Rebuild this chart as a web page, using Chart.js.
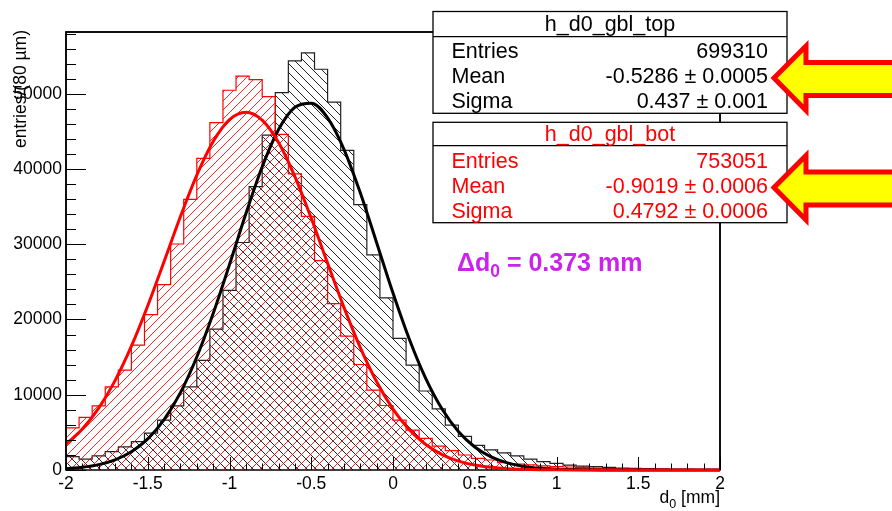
<!DOCTYPE html>
<html><head><meta charset="utf-8">
<script src="https://cdn.jsdelivr.net/npm/chart.js@4.4.1/dist/chart.umd.min.js"></script>
<style>html,body{margin:0;padding:0;background:#fff;}#wrap{width:892px;height:511px;position:relative;}</style>
</head><body><div id="wrap"><canvas id="c" width="892" height="511"></canvas></div>
<script>
// ---- binning / axis ----
const xMin = -2, xMax = 2, binWidth = 0.08;
const yMax = 58200;
const xTickLabels = [-2, -1.5, -1, -0.5, 0, 0.5, 1, 1.5, 2];
const yTickLabels = [0, 10000, 20000, 30000, 40000, 50000];
const xMinorStep = 0.1, yMinorStep = 2000;

// ---- histogram contents (entries per 80 um bin) ----
const topCounts = [1790, 1440, 1880, 2430, 3070, 3770, 4900, 6640, 8520, 11050,
  14570, 18730, 23880, 30230, 37660, 44500, 50150, 54360, 55430, 53250,
  48880, 42460, 35260, 28580, 22860, 17490, 13930, 10500, 8130, 5950,
  4460, 3270, 2680, 2280, 1880, 1440, 1100, 890, 660, 520,
  440, 360, 250, 220, 200, 120, 100, 80, 60, 50];
const botCounts = [5610, 6990, 8530, 11050, 13270, 16590, 20650, 24640, 30030, 35960,
  41400, 46160, 50460, 52350, 51880, 49610, 44600, 39340, 33690, 27830,
  22120, 17780, 14020, 10610, 8570, 6640, 5310, 4200, 3180, 2570,
  1990, 1550, 1330, 990, 800, 670, 550, 440, 400, 350,
  250, 200, 150, 120, 100, 80, 60, 50, 40, 30];

// ---- gaussian fit curves ----
const fitX = [-2.0,-1.9,-1.8,-1.7,-1.6,-1.5,-1.4,-1.3,-1.2,-1.1,-1.0,-0.9,-0.8,-0.7,-0.6,-0.5,-0.4,-0.3,-0.2,-0.1,
  0.0,0.1,0.2,0.3,0.4,0.5,0.6,0.7,0.8,0.9,1.0,1.1,1.2,1.3,1.4,1.5,1.6,1.7,1.8,1.9,2.0];
const topFit = [168, 355, 710, 1345, 2417, 4128, 6692, 10287, 15014, 20791, 27302, 34041, 40284, 45239, 48202, 48747, 46785, 42613, 36826, 30206,
  23507, 17362, 12169, 8096, 5114, 3062, 1739, 939, 481, 234, 107, 50, 20, 8, 3, 1, 0, 0, 0, 0, 0];
const botFit = [3443, 5433, 8212, 11877, 16451, 21822, 27698, 33674, 39184, 43654, 46567, 47548, 46488, 43505, 38986, 33446, 27471, 21604, 16262, 11724,
  8093, 5344, 3380, 2048, 1187, 659, 351, 178, 87, 41, 18, 8, 3, 1, 1, 1, 0, 0, 0, 0, 0];

// ---- stats boxes ----
const topStatLabels = ['Entries', 'Mean', 'Sigma'];
const topStatValues = ['699310', '-0.5286 \u00b1 0.0005', '0.437 \u00b1 0.001'];
const botStatLabels = ['Entries', 'Mean', 'Sigma'];
const botStatValues = ['753051', '-0.9019 \u00b1 0.0006', '0.4792 \u00b1 0.0006'];
const topName = 'h_d0_gbl_top', botName = 'h_d0_gbl_bot';
const deltaLabel = ['\u0394d', '0', ' = 0.373 mm'];
const yTitle = 'entries/(80 \u00b5m)';
const xTitle = ['d', '0', ' [mm]'];

const FONT = '"Liberation Sans", Arial, Helvetica, sans-serif';

function hatch(color, dir) {
  const s = 9;
  const c = document.createElement('canvas');
  c.width = s; c.height = s;
  const g = c.getContext('2d');
  g.strokeStyle = color; g.lineWidth = 1;
  g.beginPath();
  if (dir === '/') {
    g.moveTo(-1, s + 1); g.lineTo(s + 1, -1);
    g.moveTo(-1, 1); g.lineTo(1, -1);
    g.moveTo(s - 1, s + 1); g.lineTo(s + 1, s - 1);
  } else {
    g.moveTo(-1, -1); g.lineTo(s + 1, s + 1);
    g.moveTo(s - 1, -1); g.lineTo(s + 1, 1);
    g.moveTo(-1, s - 1); g.lineTo(1, s + 1);
  }
  g.stroke();
  return g.createPattern(c, 'repeat');
}

function histPoints(counts) {
  // point at each bin's lower edge; 'before' stepping holds that value across the bin
  const pts = counts.map((v, i) => ({ x: xMin + i * binWidth, y: v }));
  pts.push({ x: xMax, y: counts[counts.length - 1] });
  return pts;
}
function curvePoints(xs, ys) { return xs.map((x, i) => ({ x: x, y: ys[i] })); }

const deco = {
  id: 'deco',
  beforeDatasetsDraw(chart) {
    const { ctx, chartArea: a } = chart;
    ctx.save();
    ctx.strokeStyle = '#000';
    ctx.lineWidth = 1.5;
    ctx.strokeRect(a.left, a.top, a.right - a.left, a.bottom - a.top);
    ctx.restore();
  },
  afterDatasetsDraw(chart) {
    const { ctx, chartArea: a, scales: { x, y } } = chart;
    ctx.save();
    ctx.strokeStyle = '#000';
    ctx.lineWidth = 1;
    ctx.beginPath();
    for (let k = 0; k * yMinorStep <= yMax; k++) {
      const v = k * yMinorStep;
      const py = Math.round(y.getPixelForValue(v)) + 0.5;
      const len = (v % 10000 === 0) ? 20 : 10;
      ctx.moveTo(a.left, py); ctx.lineTo(a.left + len, py);
    }
    const nx = Math.round((xMax - xMin) / xMinorStep);
    for (let k = 0; k <= nx; k++) {
      const v = xMin + k * xMinorStep;
      const px = Math.round(x.getPixelForValue(v)) + 0.5;
      const len = (k % 5 === 0) ? 13 : 6.5;
      ctx.moveTo(px, a.bottom); ctx.lineTo(px, a.bottom - len);
    }
    ctx.stroke();
    // left and top frame edges on top of the fills
    ctx.lineWidth = 1.5;
    ctx.beginPath();
    ctx.moveTo(a.left, a.bottom); ctx.lineTo(a.left, a.top); ctx.lineTo(a.right, a.top); ctx.lineTo(a.right, a.bottom);
    ctx.stroke();
    ctx.restore();
  },
  afterDraw(chart) {
    const { ctx, chartArea: a } = chart;
    ctx.save();
    ctx.fillStyle = '#000';
    ctx.font = '17.5px ' + FONT;
    ctx.save();
    ctx.translate(26, a.top - 2);
    ctx.rotate(-Math.PI / 2);
    ctx.textAlign = 'right'; ctx.textBaseline = 'alphabetic';
    ctx.fillText(yTitle, 0, 0);
    ctx.restore();
    drawSub(ctx, xTitle, a.right, 503, 17.5, 12.5, 5, '#000', false, 'right');

    statBox(ctx, 433, 11.5, 787, 36.7, 113.3, '#000', topName, 31, topStatLabels, topStatValues, [58, 83, 108]);
    statBox(ctx, 433, 122.3, 787, 145.7, 222.7, '#ff0000', botName, 140.5, botStatLabels, botStatValues, [168, 193, 217.5]);

    arrow(ctx, 0);
    arrow(ctx, 109.5);

    drawSub(ctx, deltaLabel, 457, 271, 25, 17.5, 6, '#cc22ee', true, 'left');
    ctx.restore();
  }
};

function drawSub(ctx, parts, x, base, size, subSize, drop, color, bold, align) {
  const w = bold ? 'bold ' : '';
  ctx.fillStyle = color; ctx.textBaseline = 'alphabetic'; ctx.textAlign = 'left';
  ctx.font = w + size + 'px ' + FONT; const w0 = ctx.measureText(parts[0]).width;
  const w2 = ctx.measureText(parts[2]).width;
  ctx.font = w + subSize + 'px ' + FONT; const w1 = ctx.measureText(parts[1]).width;
  let x0 = align === 'right' ? x - (w0 + w1 + w2) : x;
  ctx.font = w + size + 'px ' + FONT; ctx.fillText(parts[0], x0, base);
  ctx.font = w + subSize + 'px ' + FONT; ctx.fillText(parts[1], x0 + w0, base + drop);
  ctx.font = w + size + 'px ' + FONT; ctx.fillText(parts[2], x0 + w0 + w1, base);
}

function statBox(ctx, x0, y0, x1, ySep, y1, color, title, titleBase, labels, values, bases) {
  ctx.fillStyle = '#fff';
  ctx.fillRect(x0, y0, x1 - x0, y1 - y0);
  ctx.strokeStyle = '#000'; ctx.lineWidth = 1.3;
  ctx.strokeRect(x0, y0, x1 - x0, y1 - y0);
  ctx.beginPath(); ctx.moveTo(x0, ySep); ctx.lineTo(x1, ySep); ctx.stroke();
  ctx.fillStyle = color;
  ctx.font = '21.5px ' + FONT;
  ctx.textBaseline = 'alphabetic';
  ctx.textAlign = 'center';
  ctx.fillText(title, (x0 + x1) / 2, titleBase);
  for (let i = 0; i < labels.length; i++) {
    ctx.textAlign = 'left'; ctx.fillText(labels[i], x0 + 18.5, bases[i]);
    ctx.textAlign = 'right'; ctx.fillText(values[i], x1 - 19, bases[i]);
  }
}

function arrow(ctx, dy) {
  ctx.save();
  ctx.beginPath();
  ctx.moveTo(774, 78 + dy);
  ctx.lineTo(806, 46 + dy);
  ctx.lineTo(806, 62.5 + dy);
  ctx.lineTo(900, 62.5 + dy);
  ctx.lineTo(900, 95.5 + dy);
  ctx.lineTo(806, 95.5 + dy);
  ctx.lineTo(806, 110.5 + dy);
  ctx.closePath();
  ctx.fillStyle = '#ffff00';
  ctx.fill();
  ctx.lineWidth = 5; ctx.lineJoin = 'miter'; ctx.miterLimit = 10;
  ctx.strokeStyle = '#ff0000';
  ctx.stroke();
  ctx.restore();
}

const chart = new Chart(document.getElementById('c'), {
  type: 'line',
  data: {
    datasets: [
      { data: histPoints(topCounts), stepped: 'before', borderColor: '#222', borderWidth: 1.2,
        backgroundColor: hatch('rgba(0,0,0,0.85)', '\\'), fill: 'origin', pointRadius: 0, order: 4 },
      { data: histPoints(botCounts), stepped: 'before', borderColor: '#ff0000', borderWidth: 1.2,
        backgroundColor: hatch('rgba(255,0,0,0.85)', '/'), fill: 'origin', pointRadius: 0, order: 3 },
      { data: curvePoints(fitX, topFit), borderColor: '#000', borderWidth: 3, fill: false, clip: 4,
        pointRadius: 0, cubicInterpolationMode: 'monotone', order: 2 },
      { data: curvePoints(fitX, botFit), borderColor: '#ff0000', borderWidth: 3, fill: false, clip: 4,
        pointRadius: 0, cubicInterpolationMode: 'monotone', order: 1 }
    ]
  },
  options: {
    responsive: false, animation: false, devicePixelRatio: 1,
    layout: { padding: { left: 0, right: 172, top: 32, bottom: 0 } },
    plugins: { legend: { display: false }, tooltip: { enabled: false } },
    scales: {
      x: {
        type: 'linear', min: xMin, max: xMax,
        grid: { display: false, drawTicks: false }, border: { display: false },
        afterBuildTicks: (s) => { s.ticks = xTickLabels.map(v => ({ value: v })); },
        afterFit: (s) => { s.height = 41; },
        ticks: { padding: 4, color: '#000', maxRotation: 0, autoSkip: false,
          font: { family: FONT, size: 17.5 }, callback: (v) => String(v) }
      },
      y: {
        type: 'linear', min: 0, max: yMax,
        grid: { display: false, drawTicks: false }, border: { display: false },
        afterBuildTicks: (s) => { s.ticks = yTickLabels.map(v => ({ value: v })); },
        afterFit: (s) => { s.width = 66; },
        ticks: { padding: 4, color: '#000', autoSkip: false,
          font: { family: FONT, size: 17.5 }, callback: (v) => String(v) }
      }
    }
  },
  plugins: [deco]
});
</script></body></html>
